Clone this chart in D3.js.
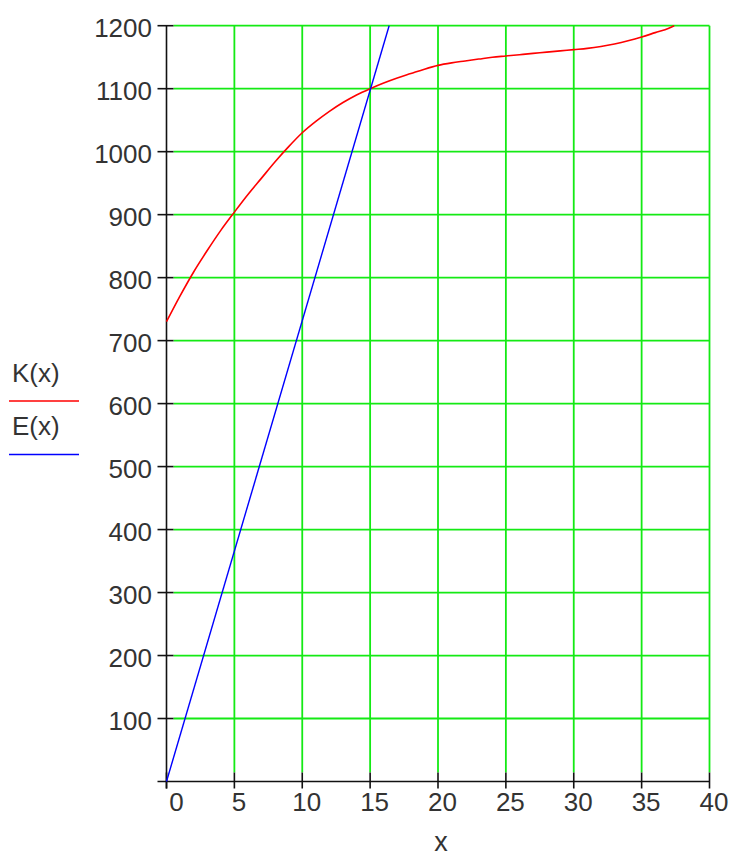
<!DOCTYPE html>
<html>
<head>
<meta charset="utf-8">
<script src="https://cdn.jsdelivr.net/npm/d3@7"></script>
<style>
  html, body { margin: 0; padding: 0; background: #fff; }
  svg { display: block; }
  text { font-family: "Liberation Sans", Arial, sans-serif; fill: #333; }
</style>
</head>
<body>
<svg id="chart" width="733" height="857"></svg>
<script>
// ---- data ----
const kX = [0,1,2,3,4,5,6,7,8,9,10,11,12,13,14,15,16,17,18,19,20,21,22,23,24,25,26,27,28,29,30,31,32,33,34,35,36,37,37.4];
const kY = [730,771,809,843,875,904,932,958,984,1008,1030,1048,1064,1078,1090,1100,1109,1117,1124,1131,1137,1141,1144,1147,1150,1152,1154,1156,1158,1160,1162,1164,1167,1171,1176,1182,1189,1196,1200];
const eX = [0, 16.4];
const eY = [0, 1200];
const xTicks = [0,5,10,15,20,25,30,35,40];
const yTicks = [100,200,300,400,500,600,700,800,900,1000,1100,1200];
const seriesNames = ["K(x)", "E(x)"];
const xTitle = "x";

// ---- layout ----
const svg = d3.select("#chart");
const x = d3.scaleLinear().domain([0, 40]).range([166.5, 709.5]);
const y = d3.scaleLinear().domain([0, 1200]).range([781.5, 25.7]);
const green = "#14ea14";
const fs = 26;

// grid
const grid = svg.append("g");
grid.selectAll("line.h").data(yTicks).join("line")
  .attr("x1", x(0) + 7).attr("x2", x(40))
  .attr("y1", d => y(d)).attr("y2", d => y(d))
  .attr("stroke", green).attr("stroke-width", 1.8);
grid.selectAll("line.v").data(xTicks.filter(d => d > 0)).join("line")
  .attr("x1", d => x(d)).attr("x2", d => x(d))
  .attr("y1", y(1200)).attr("y2", y(0) - 9)
  .attr("stroke", green).attr("stroke-width", 1.8);

// axes via d3 (ticks drawn below with custom lengths)
const yAxis = svg.append("g").attr("transform", `translate(${x(0)},0)`)
  .call(d3.axisLeft(y).tickValues([0].concat(yTicks)).tickSize(0).tickFormat(""));
yAxis.select(".domain").remove();
const xAxis = svg.append("g").attr("transform", `translate(0,${y(0)})`)
  .call(d3.axisBottom(x).tickValues(xTicks).tickSize(0).tickFormat(""));
xAxis.select(".domain").remove();

// axis lines
svg.append("line").attr("x1", x(0)).attr("x2", x(0)).attr("y1", y(1200)).attr("y2", y(0) + 7)
  .attr("stroke", "#111").attr("stroke-width", 1.6);
svg.append("line").attr("x1", x(0) - 9).attr("x2", x(40)).attr("y1", y(0)).attr("y2", y(0))
  .attr("stroke", "#111").attr("stroke-width", 1.6);

// tick marks
svg.append("g").selectAll("line").data(yTicks).join("line")
  .attr("x1", x(0) - 9).attr("x2", x(0) + 7)
  .attr("y1", d => y(d)).attr("y2", d => y(d))
  .attr("stroke", "#111").attr("stroke-width", 1.6);
svg.append("g").selectAll("line").data(xTicks).join("line")
  .attr("x1", d => x(d)).attr("x2", d => x(d))
  .attr("y1", y(0) - 9).attr("y2", y(0) + 7)
  .attr("stroke", "#111").attr("stroke-width", 1.6);

// tick labels
svg.append("g").selectAll("text").data(yTicks).join("text")
  .attr("x", 152).attr("y", d => y(d) + 11)
  .attr("text-anchor", "end").attr("font-size", fs)
  .text(d => d);
svg.append("g").selectAll("text").data(xTicks).join("text")
  .attr("x", d => x(d) + (d === 0 ? 10 : 4.5)).attr("y", 810.5)
  .attr("text-anchor", "middle").attr("font-size", fs)
  .text(d => d);

// axis title
svg.append("text").attr("x", 441).attr("y", 851).attr("text-anchor", "middle")
  .attr("font-size", 27).text(xTitle);

// legend
const legendColors = ["#ff0000", "#0000ff"];
const legend = svg.append("g");
seriesNames.forEach((name, i) => {
  const base = 381.5 + i * 53.5;
  legend.append("text").attr("x", 12).attr("y", base).attr("font-size", fs).text(name);
  legend.append("line").attr("x1", 9).attr("x2", 79)
    .attr("y1", base + 19.5).attr("y2", base + 19.5)
    .attr("stroke", legendColors[i]).attr("stroke-width", 1.6);
});

// series
const line = d3.line().x(d => x(d[0])).y(d => y(d[1])).curve(d3.curveMonotoneX);
svg.append("path").datum(kX.map((v, i) => [v, kY[i]]))
  .attr("d", line).attr("fill", "none").attr("stroke", "#ff0000").attr("stroke-width", 1.6);
svg.append("path").datum(eX.map((v, i) => [v, eY[i]]))
  .attr("d", line).attr("fill", "none").attr("stroke", "#0000ff").attr("stroke-width", 1.4);
</script>
</body>
</html>
